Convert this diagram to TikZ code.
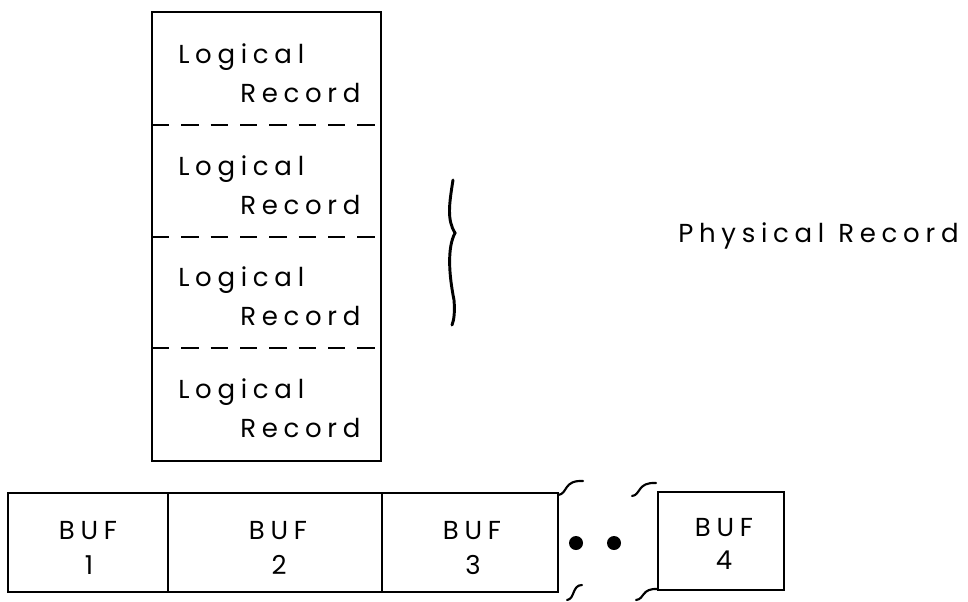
\documentclass[tikz,border=0pt]{standalone}
\usepackage{fontspec}
\setmainfont{Poppins}[LetterSpace=22]
\begin{document}
\begin{tikzpicture}[x=0.75pt,y=-0.75pt,
  frame/.style={draw,line width=1.8pt},
  sep/.style={draw,line width=1.6pt,dash pattern=on 13pt off 9pt},
  squig/.style={draw,line width=1.6pt,line cap=round},
  lbl/.style={font=\fontsize{19.5}{22}\selectfont,inner sep=0pt,anchor=base west},
  buf/.style={font=\fontsize{19.5}{22}\selectfont,inner sep=0pt,anchor=base}]
\useasboundingbox (0,0) rectangle (968,601);
% top record box
\draw[frame] (152,12) rectangle (381,461);
\draw[sep] (152,125) -- (381,125);
\draw[sep] (152,237) -- (381,237);
\draw[sep] (152,348) -- (381,348);
\foreach \i/\y in {1/0,2/112,3/223,4/335}{
  \node[lbl] (lg\i) at (178,63+\y) {Logical};
  \node[lbl] (rc\i) at (240,102+\y) {Record};
}
% brace
\draw[line width=2.2pt,line cap=round] (453,180) .. controls (449,205) and (447,220) .. (455,233)
  .. controls (447,248) and (449,275) .. (454,300) .. controls (455,312) and (454,320) .. (452,325);
\node[lbl] (phys) at (678,242) {Physical \hspace{1pt}Record};
% buffers
\draw[frame] (8,493) rectangle (558,592);
\draw[frame] (168,493) -- (168,592);
\draw[frame] (382,493) -- (382,592);
\draw[frame] (658,492) rectangle (784,590);
\node[buf] (b1) at (88,539) {BUF};
\node[buf] (n1) at (89,574) {1};
\node[buf] (b2) at (278,539) {BUF};
\node[buf] (n2) at (279,574) {2};
\node[buf] (b3) at (472,539) {BUF};
\node[buf] (n3) at (473,574) {3};
\node[buf] (b4) at (724,536) {BUF};
\node[buf] (n4) at (724,569) {4};
\fill (576,543) circle (7);
\fill (614,543) circle (7);
% break marks
\draw[squig] (558,495) .. controls (568,494) and (563,480) .. (583,481);
\draw[squig] (567,600) .. controls (575,599) and (572,585) .. (582,585);
\draw[squig] (632,496) .. controls (641,495) and (637,482) .. (656,483);
\draw[squig] (636,600) .. controls (645,599) and (641,588) .. (658,589);
\end{tikzpicture}
\end{document}
